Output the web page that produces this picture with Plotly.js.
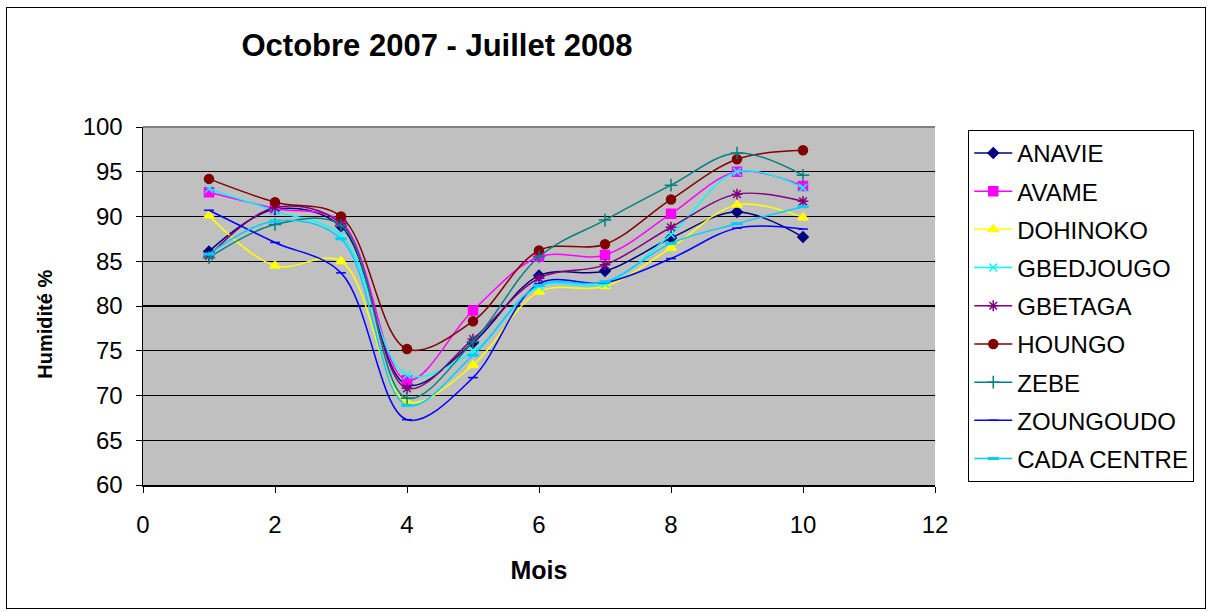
<!DOCTYPE html>
<html><head><meta charset="utf-8">
<script src="https://cdn.plot.ly/plotly-3.0.1.min.js"></script>
<style>
html,body{margin:0;padding:0;background:#fff;}
#wrap{position:relative;width:1212px;height:612px;}
#chart{width:1212px;height:612px;}
#frame{position:absolute;left:6px;top:7px;width:1198px;height:600px;border:1px solid #000;pointer-events:none;}
</style></head>
<body>
<div id="wrap"><div id="chart"></div><div id="frame"></div></div>
<script>
const months = [1,2,3,4,5,6,7,8,9,10];
const seriesNames = ["ANAVIE","AVAME","DOHINOKO","GBEDJOUGO","GBETAGA","HOUNGO","ZEBE","ZOUNGOUDO","CADA CENTRE"];
const ANAVIE      = [86.1, 90.8, 88.9, 71.2, 75.9, 83.4, 83.9, 87.6, 90.5, 87.7];
const AVAME       = [92.7, 90.9, 89.4, 71.7, 79.5, 85.5, 85.7, 90.3, 95.0, 93.4];
const DOHINOKO    = [90.1, 84.5, 85.0, 69.3, 73.4, 81.6, 82.2, 86.5, 91.3, 89.9];
const GBEDJOUGO   = [93.1, 90.6, 87.9, 72.3, 74.9, 82.2, 82.5, 88.0, 95.0, 93.2];
const GBETAGA     = [85.6, 91.0, 89.2, 70.8, 76.3, 83.1, 84.6, 88.8, 92.5, 91.7];
const HOUNGO      = [94.2, 91.6, 90.0, 75.2, 78.3, 86.2, 86.9, 91.9, 96.4, 97.4];
const ZEBE        = [85.4, 89.1, 89.0, 69.7, 76.0, 85.5, 89.6, 93.5, 97.1, 94.6];
const ZOUNGOUDO   = [90.7, 87.1, 83.7, 67.3, 72.0, 82.5, 82.6, 85.3, 88.7, 88.6];
const CADA_CENTRE = [85.8, 89.5, 87.5, 68.9, 74.5, 82.3, 82.7, 87.0, 89.2, 91.1];
const values = [ANAVIE, AVAME, DOHINOKO, GBEDJOUGO, GBETAGA, HOUNGO, ZEBE, ZOUNGOUDO, CADA_CENTRE];

const colors  = ["#000080","#FF00FF","#FFFF00","#00FFFF","#800080","#800000","#008080","#0000FF","#00CCFF"];
const symbols = ["diamond","square","triangle-up","x-thin-open","asterisk-open","circle","cross-thin-open","line-ew-open","line-ew-open"];
const sizes   = [8,9,9,8,9,9,9,7,8];

const traces = seriesNames.map((n,i)=>({
  type:'scatter', mode:'lines+markers', name:n, x:months, y:values[i],
  legendgroup:'g'+i,
  line:{color:colors[i], width:1.5, shape:'spline', smoothing:1},
  marker:{symbol:symbols[i], size:sizes[i], color:colors[i], line:{color:colors[i], width: (i===8?3:1.5)}}
}));

const F = 'Arial, "Liberation Sans", sans-serif';
const layout = {
  width:1212, height:612,
  paper_bgcolor:'#fff', plot_bgcolor:'#C0C0C0',
  margin:{l:143, r:277, t:127, b:127},
  font:{family:F, color:'#000', size:24},
  title:{text:'<b>Octobre 2007 - Juillet 2008</b>', x:0.3606, xref:'container', xanchor:'center', y:0.926, yref:'container', yanchor:'middle', font:{size:31, family:F}},
  xaxis:{range:[0,12], dtick:2, tick0:0, showgrid:false, zeroline:false, showline:true, linecolor:'#000', linewidth:1.5,
    ticks:'outside', ticklen:6, tickcolor:'#000', tickfont:{size:24}, ticklabelstandoff:12,
    title:{text:'<b>Mois</b>', font:{size:25}, standoff:24}},
  yaxis:{range:[60,100], dtick:5, tick0:60, showgrid:true, gridcolor:'#000', gridwidth:1.3, zeroline:false, showline:true, linecolor:'#000', linewidth:1.5,
    ticks:'outside', ticklen:6, tickcolor:'#000', tickfont:{size:24}, ticklabelstandoff:8},
  annotations:[{text:'<b>Humidité %</b>', xref:'paper', yref:'paper', x:-0.124, y:0.45, xanchor:'center', yanchor:'middle',
    textangle:-90, showarrow:false, font:{size:20, family:F}}],
  legend:{x:1.042, xanchor:'left', y:0.992, yanchor:'top', bordercolor:'#000', borderwidth:1, bgcolor:'#fff',
    font:{size:24}, tracegroupgap:4, itemwidth:38},
  shapes:[{type:'line', xref:'paper', yref:'paper', x0:0, x1:1, y0:1, y1:1, line:{color:'#808080', width:2}}]
};
Plotly.newPlot('chart', traces, layout, {displayModeBar:false, staticPlot:true});
</script>
</body></html>
